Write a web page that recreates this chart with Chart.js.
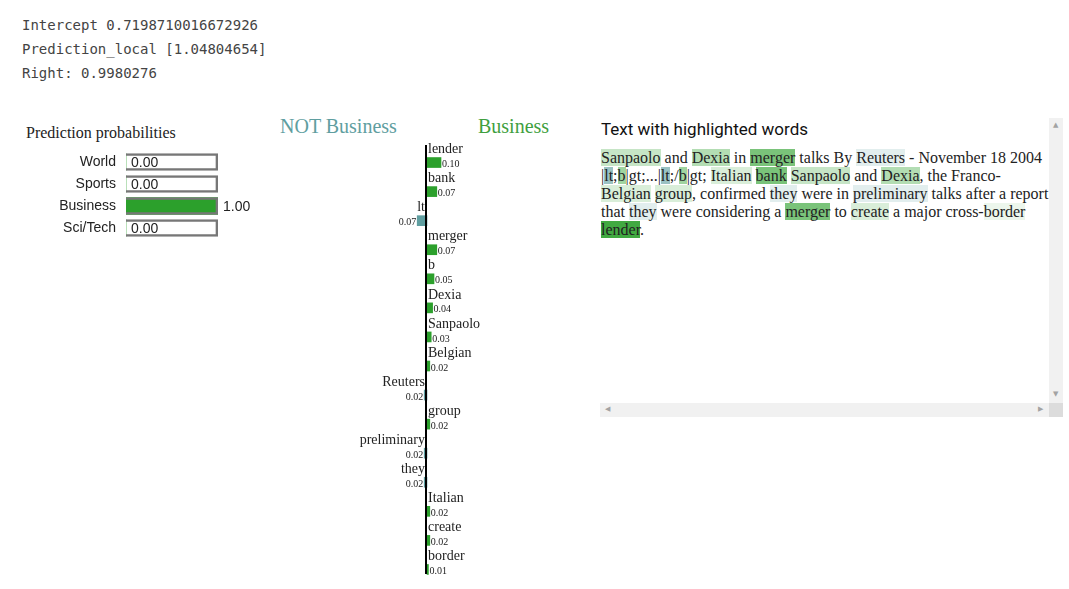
<!DOCTYPE html>
<html>
<head>
<meta charset="utf-8">
<script src="https://cdn.jsdelivr.net/npm/chart.js@4.4.1/dist/chart.umd.min.js"></script>
<style>
  body { margin: 0; background: #fff; width: 1069px; height: 589px; position: relative; overflow: hidden; }
  .out { position: absolute; left: 22px; top: 13px; font-family: "DejaVu Sans Mono", monospace; font-size: 14px; line-height: 24px; color: #444; white-space: pre; }
  .probTitle { position: absolute; left: 26px; top: 124px; font-family: "Liberation Serif", serif; font-size: 16px; color: #222; }
  .clsTitle { position: absolute; top: 115px; font-family: "Liberation Serif", serif; font-size: 20px; }
  #probWrap { position: absolute; left: 0; top: 151px; width: 280px; height: 88px; }
  #featWrap { position: absolute; left: 287px; top: 131px; width: 280px; height: 453px; }
  .txtBox { position: absolute; left: 600px; top: 118px; width: 463px; height: 299px; overflow: hidden; }
  .txtTitle { position: absolute; left: 1px; top: 1px; font-family: Roboto, sans-serif; font-size: 17px; color: #111; }
  .txt { position: absolute; left: 1px; top: 31px; width: 449px; font-family: "Liberation Serif", serif; font-size: 16px; line-height: 18px; color: #222; }
  .vbar { position: absolute; right: 0; top: 0; width: 14px; height: 285px; background: #f1f1f1; }
  .hbar { position: absolute; left: 0; bottom: 0; width: 449px; height: 14px; background: #f1f1f1; }
  .corner { position: absolute; right: 0; bottom: 0; width: 14px; height: 14px; background: #dcdcdc; }
  .arr { position: absolute; font-size: 7px; color: #a3a3a3; font-family: "DejaVu Sans", sans-serif; }
</style>
</head>
<body>
<div class="out">Intercept 0.7198710016672926
Prediction_local [1.04804654]
Right: 0.9980276</div>

<div class="probTitle">Prediction probabilities</div>
<div id="probWrap"><canvas id="probChart"></canvas></div>

<div class="clsTitle" style="left:280px;color:#5f9ea0">NOT Business</div>
<div class="clsTitle" style="left:478px;color:#3f9f3f">Business</div>
<div id="featWrap"><canvas id="featChart"></canvas></div>

<div class="txtBox">
  <div class="txtTitle">Text with highlighted words</div>
  <div class="txt" id="txt"></div>
  <div class="vbar"><span class="arr" style="left:4px;top:3px">&#9650;</span><span class="arr" style="left:4px;top:272px">&#9660;</span></div>
  <div class="hbar"><span class="arr" style="left:5px;top:2px">&#9664;</span><span class="arr" style="left:438px;top:2px">&#9654;</span></div>
  <div class="corner"></div>
</div>

<script>
// classes and predicted probabilities
const classNames = ['World', 'Sports', 'Business', 'Sci/Tech'];
const classProbs = [0.00, 0.00, 1.00, 0.00];

// features and their weights (positive = Business)
const featureNames = ['lender', 'bank', 'lt', 'merger', 'b', 'Dexia', 'Sanpaolo', 'Belgian', 'Reuters',
  'group', 'preliminary', 'they', 'Italian', 'create', 'border'];
const featureWeights = [0.10, 0.07, -0.07, 0.07, 0.05, 0.04, 0.03, 0.02, -0.02, 0.02, -0.02, -0.02, 0.02, 0.02, 0.01];

const docText = 'Sanpaolo and Dexia in merger talks By Reuters - November 18 2004 |lt;b|gt;...|lt;/b|gt; Italian bank Sanpaolo and Dexia, the Franco-Belgian group, confirmed they were in preliminary talks after a report that they were considering a merger to create a major cross-border lender.';

const GREEN = '#2ca02c';
const BLUE = '#5f9ea0';

Chart.defaults.animation = false;

// prediction probabilities
const probLabels = {
  id: 'probLabels',
  afterDatasetsDraw(chart) {
    const ctx = chart.ctx;
    const meta = chart.getDatasetMeta(0);
    const xs = chart.scales.x;
    ctx.save();
    ctx.font = '14px "Liberation Sans", Arial, sans-serif';
    ctx.fillStyle = '#222';
    ctx.textBaseline = 'middle';
    meta.data.forEach((bar, i) => {
      ctx.textAlign = 'right';
      ctx.fillText(classNames[i], chart.chartArea.left - 10, bar.y);
      ctx.textAlign = 'left';
      ctx.fillText(classProbs[i].toFixed(2), xs.getPixelForValue(classProbs[i]) + 5, bar.y + 1);
    });
    ctx.restore();
  }
};

new Chart(document.getElementById('probChart'), {
  type: 'bar',
  data: {
    labels: classNames,
    datasets: [{
      data: classProbs,
      backgroundColor: GREEN,
      borderWidth: 0,
      barThickness: 17,
      order: 2
    }, {
      data: classNames.map(() => 1),
      backgroundColor: 'rgba(0,0,0,0)',
      borderColor: '#777',
      borderWidth: 2,
      barThickness: 17,
      order: 1
    }]
  },
  options: {
    indexAxis: 'y',
    responsive: true,
    maintainAspectRatio: false,
    layout: { padding: { left: 126, right: 62, top: 0, bottom: 0 } },
    plugins: { legend: { display: false }, tooltip: { enabled: false } },
    scales: {
      x: { display: false, min: 0, max: 1 },
      y: { display: false, stacked: true }
    }
  },
  plugins: [probLabels]
});

// feature weights
const featLabels = {
  id: 'featLabels',
  afterDatasetsDraw(chart) {
    const ctx = chart.ctx;
    const meta = chart.getDatasetMeta(0);
    const x0 = chart.scales.x.getPixelForValue(0);
    ctx.save();
    ctx.strokeStyle = '#000';
    ctx.lineWidth = 2;
    ctx.beginPath();
    ctx.moveTo(x0 - 1, chart.chartArea.top - 3);
    ctx.lineTo(x0 - 1, chart.chartArea.bottom - 10);
    ctx.stroke();
    ctx.fillStyle = '#222';
    ctx.textBaseline = 'middle';
    meta.data.forEach((bar, i) => {
      const w = featureWeights[i];
      ctx.font = '14px "Liberation Serif", serif';
      ctx.textAlign = w >= 0 ? 'left' : 'right';
      ctx.fillText(featureNames[i], w >= 0 ? x0 + 1 : x0 - 2, bar.y - 13);
      ctx.font = '10px "Liberation Serif", serif';
      ctx.fillText(Math.abs(w).toFixed(2), w >= 0 ? bar.x + 1 : bar.x - 1, bar.y + 2);
    });
    ctx.restore();
  }
};

new Chart(document.getElementById('featChart'), {
  type: 'bar',
  data: {
    labels: featureNames,
    datasets: [{
      data: featureWeights,
      backgroundColor: featureWeights.map(w => w >= 0 ? GREEN : BLUE),
      borderWidth: 0,
      barThickness: 10
    }]
  },
  options: {
    indexAxis: 'y',
    responsive: true,
    maintainAspectRatio: false,
    layout: { padding: { top: 17, bottom: 0, left: 0, right: 0 } },
    plugins: { legend: { display: false }, tooltip: { enabled: false } },
    scales: {
      x: { display: false, min: -1, max: 1 },
      y: { display: false }
    }
  },
  plugins: [featLabels]
});

// highlighted text, shaded by weight
const maxW = Math.max(...featureWeights.map(Math.abs));
const box = document.getElementById('txt');
box.innerHTML = docText.replace(/[A-Za-z]+/g, word => {
  const i = featureNames.indexOf(word);
  if (i < 0) return word;
  const w = featureWeights[i];
  const a = (Math.abs(w) / maxW * 0.9).toFixed(2);
  const bg = w >= 0 ? `rgba(44,160,44,${a})` : `rgba(95,158,160,${a})`;
  return `<span style="background:${bg}">${word}</span>`;
});
</script>
</body>
</html>
